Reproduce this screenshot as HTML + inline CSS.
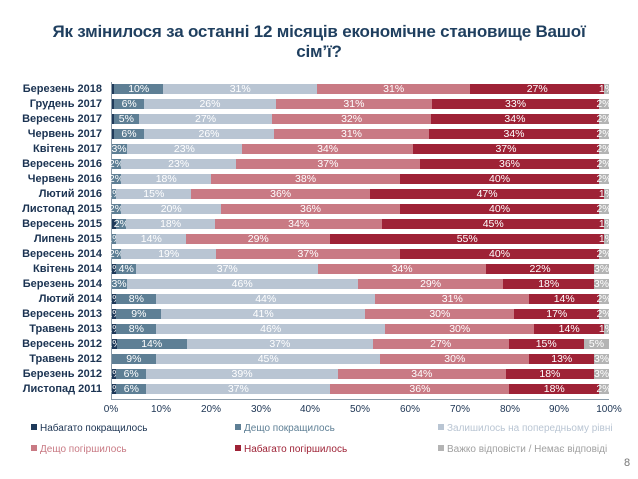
<!DOCTYPE html>
<html><head><meta charset="utf-8"><style>
body{margin:0;width:638px;height:479px;background:#fff;position:relative;overflow:hidden;font-family:"Liberation Sans",sans-serif}
.t{position:absolute;left:0;width:638px;text-align:center;color:#1f3f5f;font-weight:bold;font-size:17px;letter-spacing:-0.2px}
.lab{position:absolute;right:536px;font-size:11px;font-weight:bold;color:#1b3352;white-space:nowrap;line-height:12px}
.row{position:absolute;left:111.5px;width:497.5px;height:10px;display:flex}
.row div{display:flex;justify-content:center;align-items:center;color:#fff;font-size:10.5px;line-height:10px;white-space:nowrap;overflow:visible;min-width:0}
.a{background:#1f3a5a}.b{background:#5e7f95}.c{background:#b9c5d3}.d{background:#c97a84}.e{background:#9e2236}.f{background:#b4b4b4}
.tk{position:absolute;top:404px;font-size:10px;color:#1b3352;width:40px;text-align:center;margin-left:-20px}
.lg{position:absolute;font-size:10px;white-space:nowrap}
.lg i{display:inline-block;width:6px;height:6px;margin-right:3px;vertical-align:1px}
</style></head><body>
<div class="t" style="top:22px">Як змінилося за останні 12 місяців економічне становище Вашої</div>
<div class="t" style="top:42px">сім’ї?</div>
<div style="position:absolute;left:111px;top:82px;width:1px;height:318px;background:#8a9aa8"></div>
<div style="position:absolute;left:111px;top:399px;width:498px;height:1px;background:#8a9aa8"></div>

<div class="lab" style="top:83px">Березень 2018</div>
<div class="row" style="top:84px"><div class="a" style="flex:0.5"></div><div class="b" style="flex:10">10%</div><div class="c" style="flex:31">31%</div><div class="d" style="flex:31">31%</div><div class="e" style="flex:27">27%</div><div class="f" style="flex:1">1%</div></div>
<div class="lab" style="top:98px">Грудень 2017</div>
<div class="row" style="top:99px"><div class="a" style="flex:0.5"></div><div class="b" style="flex:6">6%</div><div class="c" style="flex:26">26%</div><div class="d" style="flex:31">31%</div><div class="e" style="flex:33">33%</div><div class="f" style="flex:2">2%</div></div>
<div class="lab" style="top:113px">Вересень 2017</div>
<div class="row" style="top:114px"><div class="a" style="flex:0.5"></div><div class="b" style="flex:5">5%</div><div class="c" style="flex:27">27%</div><div class="d" style="flex:32">32%</div><div class="e" style="flex:34">34%</div><div class="f" style="flex:2">2%</div></div>
<div class="lab" style="top:128px">Червень 2017</div>
<div class="row" style="top:129px"><div class="a" style="flex:0.5"></div><div class="b" style="flex:6">6%</div><div class="c" style="flex:26">26%</div><div class="d" style="flex:31">31%</div><div class="e" style="flex:34">34%</div><div class="f" style="flex:2">2%</div></div>
<div class="lab" style="top:143px">Квітень 2017</div>
<div class="row" style="top:144px"><div class="b" style="flex:3">3%</div><div class="c" style="flex:23">23%</div><div class="d" style="flex:34">34%</div><div class="e" style="flex:37">37%</div><div class="f" style="flex:2">2%</div></div>
<div class="lab" style="top:158px">Вересень 2016</div>
<div class="row" style="top:159px"><div class="b" style="flex:2">2%</div><div class="c" style="flex:23">23%</div><div class="d" style="flex:37">37%</div><div class="e" style="flex:36">36%</div><div class="f" style="flex:2">2%</div></div>
<div class="lab" style="top:173px">Червень 2016</div>
<div class="row" style="top:174px"><div class="b" style="flex:2">2%</div><div class="c" style="flex:18">18%</div><div class="d" style="flex:38">38%</div><div class="e" style="flex:40">40%</div><div class="f" style="flex:2">2%</div></div>
<div class="lab" style="top:188px">Лютий 2016</div>
<div class="row" style="top:189px"><div class="b" style="flex:1">1%</div><div class="c" style="flex:15">15%</div><div class="d" style="flex:36">36%</div><div class="e" style="flex:47">47%</div><div class="f" style="flex:1">1%</div></div>
<div class="lab" style="top:203px">Листопад 2015</div>
<div class="row" style="top:204px"><div class="b" style="flex:2">2%</div><div class="c" style="flex:20">20%</div><div class="d" style="flex:36">36%</div><div class="e" style="flex:40">40%</div><div class="f" style="flex:2">2%</div></div>
<div class="lab" style="top:218px">Вересень 2015</div>
<div class="row" style="top:219px"><div class="a" style="flex:1"></div><div class="b" style="flex:2">2%</div><div class="c" style="flex:18">18%</div><div class="d" style="flex:34">34%</div><div class="e" style="flex:45">45%</div><div class="f" style="flex:1">1%</div></div>
<div class="lab" style="top:233px">Липень 2015</div>
<div class="row" style="top:234px"><div class="b" style="flex:1">1%</div><div class="c" style="flex:14">14%</div><div class="d" style="flex:29">29%</div><div class="e" style="flex:55">55%</div><div class="f" style="flex:1">1%</div></div>
<div class="lab" style="top:248px">Вересень 2014</div>
<div class="row" style="top:249px"><div class="b" style="flex:2">2%</div><div class="c" style="flex:19">19%</div><div class="d" style="flex:37">37%</div><div class="e" style="flex:40">40%</div><div class="f" style="flex:2">2%</div></div>
<div class="lab" style="top:263px">Квітень 2014</div>
<div class="row" style="top:264px"><div class="a" style="flex:1">1%</div><div class="b" style="flex:4">4%</div><div class="c" style="flex:37">37%</div><div class="d" style="flex:34">34%</div><div class="e" style="flex:22">22%</div><div class="f" style="flex:3">3%</div></div>
<div class="lab" style="top:278px">Березень 2014</div>
<div class="row" style="top:279px"><div class="b" style="flex:3">3%</div><div class="c" style="flex:46">46%</div><div class="d" style="flex:29">29%</div><div class="e" style="flex:18">18%</div><div class="f" style="flex:3">3%</div></div>
<div class="lab" style="top:293px">Лютий 2014</div>
<div class="row" style="top:294px"><div class="a" style="flex:1">1%</div><div class="b" style="flex:8">8%</div><div class="c" style="flex:44">44%</div><div class="d" style="flex:31">31%</div><div class="e" style="flex:14">14%</div><div class="f" style="flex:2">2%</div></div>
<div class="lab" style="top:308px">Вересень 2013</div>
<div class="row" style="top:309px"><div class="a" style="flex:1">1%</div><div class="b" style="flex:9">9%</div><div class="c" style="flex:41">41%</div><div class="d" style="flex:30">30%</div><div class="e" style="flex:17">17%</div><div class="f" style="flex:2">2%</div></div>
<div class="lab" style="top:323px">Травень 2013</div>
<div class="row" style="top:324px"><div class="a" style="flex:1">1%</div><div class="b" style="flex:8">8%</div><div class="c" style="flex:46">46%</div><div class="d" style="flex:30">30%</div><div class="e" style="flex:14">14%</div><div class="f" style="flex:1">1%</div></div>
<div class="lab" style="top:338px">Вересень 2012</div>
<div class="row" style="top:339px"><div class="a" style="flex:1">1%</div><div class="b" style="flex:14">14%</div><div class="c" style="flex:37">37%</div><div class="d" style="flex:27">27%</div><div class="e" style="flex:15">15%</div><div class="f" style="flex:5">5%</div></div>
<div class="lab" style="top:353px">Травень 2012</div>
<div class="row" style="top:354px"><div class="b" style="flex:9">9%</div><div class="c" style="flex:45">45%</div><div class="d" style="flex:30">30%</div><div class="e" style="flex:13">13%</div><div class="f" style="flex:3">3%</div></div>
<div class="lab" style="top:368px">Березень 2012</div>
<div class="row" style="top:369px"><div class="a" style="flex:1">1%</div><div class="b" style="flex:6">6%</div><div class="c" style="flex:39">39%</div><div class="d" style="flex:34">34%</div><div class="e" style="flex:18">18%</div><div class="f" style="flex:3">3%</div></div>
<div class="lab" style="top:383px">Листопад 2011</div>
<div class="row" style="top:384px"><div class="a" style="flex:1">1%</div><div class="b" style="flex:6">6%</div><div class="c" style="flex:37">37%</div><div class="d" style="flex:36">36%</div><div class="e" style="flex:18">18%</div><div class="f" style="flex:2">2%</div></div>

<div class="tk" style="left:111px">0%</div><div class="tk" style="left:161px">10%</div><div class="tk" style="left:211px">20%</div><div class="tk" style="left:261px">30%</div><div class="tk" style="left:310px">40%</div><div class="tk" style="left:360px">50%</div><div class="tk" style="left:410px">60%</div><div class="tk" style="left:460px">70%</div><div class="tk" style="left:510px">80%</div><div class="tk" style="left:559px">90%</div><div class="tk" style="left:609px">100%</div>

<div class="lg" style="left:31px;top:423px;color:#1b3352"><i style="background:#1f3a5a"></i>Набагато покращилось</div>
<div class="lg" style="left:235px;top:423px;color:#5e7f95"><i style="background:#5e7f95"></i>Дещо покращилось</div>
<div class="lg" style="left:438px;top:423px;color:#b9c5d3"><i style="background:#b9c5d3"></i>Залишилось на попередньому рівні</div>
<div class="lg" style="left:31px;top:444px;color:#c97a84"><i style="background:#c97a84"></i>Дещо погіршилось</div>
<div class="lg" style="left:235px;top:444px;color:#9e2236"><i style="background:#9e2236"></i>Набагато погіршилось</div>
<div class="lg" style="left:438px;top:444px;color:#a0a0a0"><i style="background:#b4b4b4"></i>Важко відповісти / Немає відповіді</div>
<div style="position:absolute;left:624px;top:457px;font-size:11px;color:#777">8</div>
</body></html>
